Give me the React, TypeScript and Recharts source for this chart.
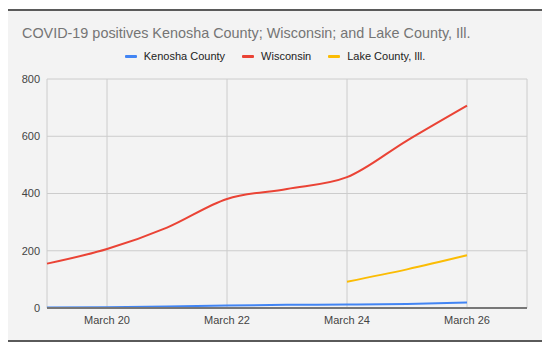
import { CartesianGrid, Line, LineChart, XAxis, YAxis } from "recharts";

const days = [19, 20, 21, 22, 23, 24, 25, 26];
const kenosha = [2, 3, 5, 9, 11, 12, 14, 19];
const wisconsin = [155, 206, 281, 381, 416, 457, 585, 707];
const lakeCounty = [null, null, null, null, null, 92, 135, 184];

const xTicks = [20, 22, 24, 26];
const yTicks = [0, 200, 400, 600, 800];

const series = [
  { key: "kenosha", name: "Kenosha County", color: "#4285f4" },
  { key: "wisconsin", name: "Wisconsin", color: "#ea4335" },
  { key: "lake", name: "Lake County, Ill.", color: "#fbbc04" }
];

const data = days.map((day, i) => ({
  day,
  kenosha: kenosha[i],
  wisconsin: wisconsin[i],
  lake: lakeCounty[i]
}));

const font = "Arial, 'Liberation Sans', sans-serif";

export default function App() {
  return (
    <div style={{ position: "relative", width: 550, height: 351, margin: -8, background: "#fff", fontFamily: font }}>
      <div
        style={{
          position: "absolute",
          left: 5,
          top: 9,
          width: 537,
          height: 329,
          background: "#f3f3f3",
          border: "2px solid #5a5a5a"
        }}
      />
      <div style={{ position: "absolute", left: 22, top: 25, fontSize: 14.4, color: "#757575", whiteSpace: "nowrap" }}>
        COVID-19 positives Kenosha County; Wisconsin; and Lake County, Ill.
      </div>
      <div
        style={{
          position: "absolute",
          left: 0,
          width: 550,
          top: 50,
          display: "flex",
          justifyContent: "center",
          gap: 17,
          fontSize: 11,
          color: "#222"
        }}
      >
        {series.map((s) => (
          <div key={s.key} style={{ display: "flex", alignItems: "center", gap: 7 }}>
            <span style={{ display: "inline-block", width: 12, height: 3, background: s.color, borderRadius: 1 }} />
            <span>{s.name}</span>
          </div>
        ))}
      </div>
      <div style={{ position: "absolute", left: 0, top: 0 }}>
        <LineChart width={550} height={351} data={data} margin={{ top: 79, right: 23, bottom: 13, left: 7 }}>
          <CartesianGrid stroke="#cccccc" />
          <XAxis
            dataKey="day"
            type="number"
            domain={[19, 27]}
            ticks={xTicks}
            tickFormatter={(v) => `March ${v}`}
            tickLine={false}
            axisLine={{ stroke: "#777", strokeWidth: 2 }}
            tick={{ fill: "#444", fontSize: 11, fontFamily: font }}
            tickMargin={2}
            height={30}
          />
          <YAxis
            type="number"
            domain={[0, 800]}
            ticks={yTicks}
            tickLine={false}
            axisLine={false}
            tickSize={0}
            tickMargin={7}
            width={40}
            tick={{ fill: "#444", fontSize: 11, fontFamily: font }}
          />
          {series.map((s) => (
            <Line
              key={s.key}
              type="monotone"
              dataKey={s.key}
              name={s.name}
              stroke={s.color}
              strokeWidth={2}
              dot={false}
              isAnimationActive={false}
            />
          ))}
        </LineChart>
      </div>
    </div>
  );
}
